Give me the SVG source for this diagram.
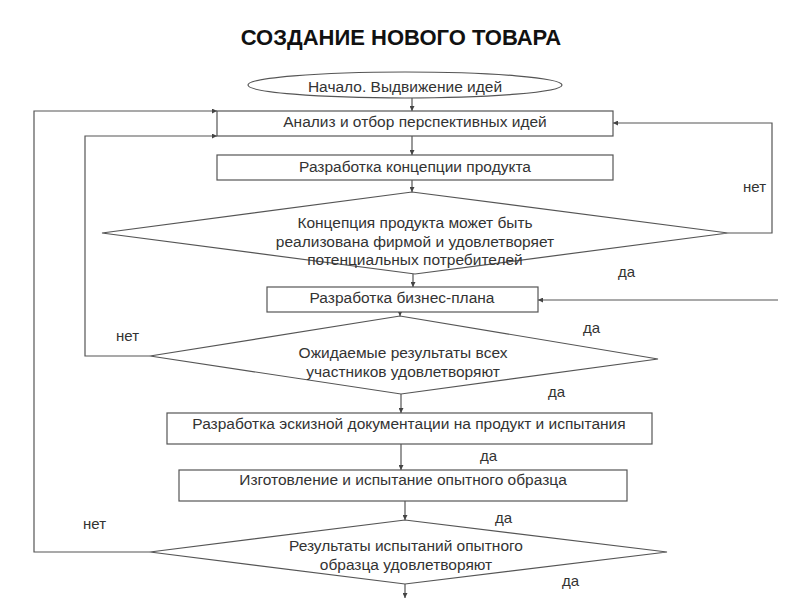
<svg xmlns="http://www.w3.org/2000/svg" width="800" height="600" viewBox="0 0 800 600">
<defs>
<style>
.n{fill:#fff;stroke:#555;stroke-width:1.2}
.t{font-family:"Liberation Sans",Arial,sans-serif;font-size:15.5px;fill:#333;text-anchor:middle}
.l{font-family:"Liberation Sans",Arial,sans-serif;font-size:15px;fill:#333}
.c{fill:none;stroke:#555;stroke-width:1.2}
.title{font-family:"Liberation Sans",Arial,sans-serif;font-size:22px;font-weight:bold;fill:#111;text-anchor:middle}
</style>
<marker id="a" viewBox="0 0 10 10" refX="10" refY="5" markerWidth="5" markerHeight="5" orient="auto" markerUnits="userSpaceOnUse">
<path d="M0,0 L10,5 L0,10 z" fill="#444"/>
</marker>
</defs>
<rect width="800" height="600" fill="#fff"/>
<text class="title" x="401" y="45">СОЗДАНИЕ НОВОГО ТОВАРА</text>

<g id="connectors">
<path class="c" d="M412,98 V111" marker-end="url(#a)"/>
<path class="c" d="M412,136 V155" marker-end="url(#a)"/>
<path class="c" d="M412,180 V192" marker-end="url(#a)"/>
<path class="c" d="M413,274 V287" marker-end="url(#a)"/>
<path class="c" d="M728,233 H772 V123 H613" marker-end="url(#a)"/>
<path class="c" d="M778,300 H538" marker-end="url(#a)"/>
<path class="c" d="M400,312 V316" marker-end="url(#a)"/>
<path class="c" d="M401,394 V413" marker-end="url(#a)"/>
<path class="c" d="M401,444 V470" marker-end="url(#a)"/>
<path class="c" d="M405,501 V520" marker-end="url(#a)"/>
<path class="c" d="M405,584 V598" marker-end="url(#a)"/>
<path class="c" d="M150,356 H85 V136 H217" marker-end="url(#a)"/>
<path class="c" d="M150,552 H34 V111 H217" marker-end="url(#a)"/>
</g>

<g id="start">
<ellipse class="n" cx="405" cy="85" rx="157" ry="13"/>
<text class="t" x="405" y="92">Начало. Выдвижение идей</text>
</g>
<g id="analysis">
<rect class="n" x="217" y="111" width="396" height="25"/>
<text class="t" x="415" y="127">Анализ и отбор перспективных идей</text>
</g>
<g id="concept">
<rect class="n" x="217" y="155" width="396" height="25"/>
<text class="t" x="415" y="172">Разработка концепции продукта</text>
</g>
<g id="decision1">
<polygon class="n" points="102,233 412,192 728,233 415,274"/>
<text class="t" x="415" y="228">Концепция продукта может быть</text>
<text class="t" x="415" y="247">реализована фирмой и удовлетворяет</text>
<text class="t" x="415" y="265">потенциальных потребителей</text>
</g>
<g id="business">
<rect class="n" x="267" y="287" width="271" height="25"/>
<text class="t" x="402" y="303">Разработка бизнес-плана</text>
</g>
<g id="decision2">
<polygon class="n" points="150,356 400,316 658,359 401,394"/>
<text class="t" x="403" y="358">Ожидаемые результаты всех</text>
<text class="t" x="403" y="377">участников удовлетворяют</text>
</g>
<g id="docs">
<rect class="n" x="167" y="413" width="485" height="31"/>
<text class="t" x="409" y="429">Разработка эскизной документации на продукт и испытания</text>
</g>
<g id="prototype">
<rect class="n" x="179" y="470" width="448" height="31"/>
<text class="t" x="403" y="485">Изготовление и испытание опытного образца</text>
</g>
<g id="decision3">
<polygon class="n" points="150,552 405,520 667,552 405,584"/>
<text class="t" x="406" y="551">Результаты испытаний опытного</text>
<text class="t" x="406" y="570">образца удовлетворяют</text>
</g>

<g id="labels">
<text class="l" x="743" y="192">нет</text>
<text class="l" x="618" y="277">да</text>
<text class="l" x="583" y="333">да</text>
<text class="l" x="116" y="341">нет</text>
<text class="l" x="548" y="397">да</text>
<text class="l" x="480" y="461">да</text>
<text class="l" x="495" y="523">да</text>
<text class="l" x="83" y="529">нет</text>
<text class="l" x="562" y="586">да</text>
</g>
</svg>
